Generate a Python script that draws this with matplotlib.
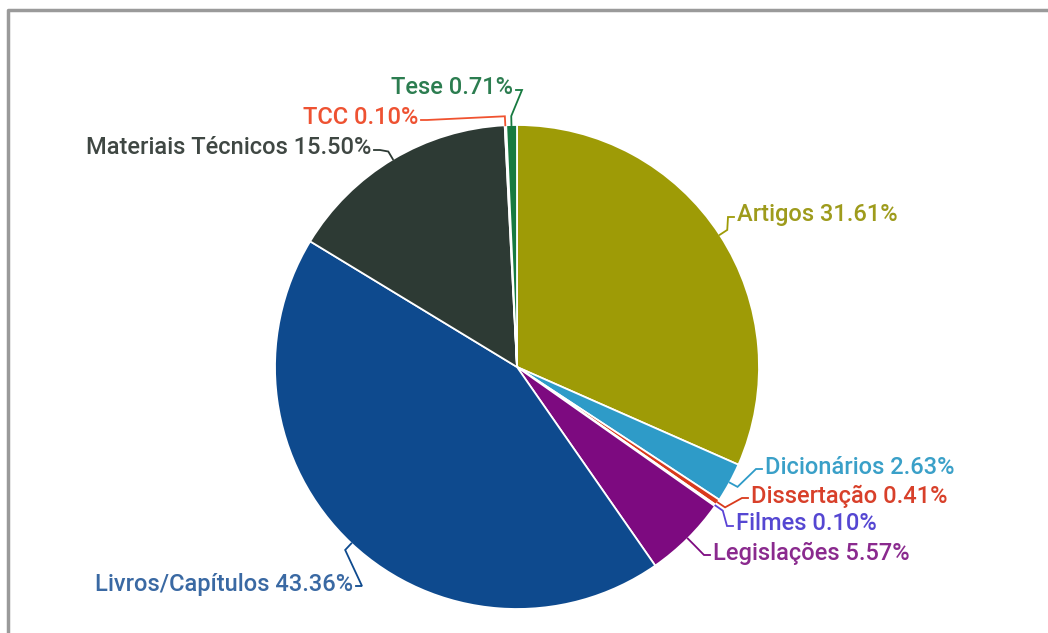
import numpy as np
from matplotlib import pyplot as plt

# slices, clockwise from 12 o'clock
labels = ["Artigos", "Dicionários", "Dissertação", "Filmes", "Legislações",
          "Livros/Capítulos", "Materiais Técnicos", "TCC", "Tese"]
percents = [31.61, 2.63, 0.41, 0.10, 5.57, 43.36, 15.50, 0.10, 0.71]
colors = ["#9e9b06", "#2e9bc8", "#d93a1c", "#5b43d6", "#7d0a80",
          "#0e4a8e", "#2d3a34", "#f0522f", "#177a40"]
text_colors = ["#9e9b1c", "#3aa0c8", "#d8402a", "#5547d2", "#8a2a8e",
               "#3a69a3", "#3f4743", "#ee5232", "#2c7d50"]

W, H = 1048, 633
cx, cy, r = 517, H - 367, 242

# label anchor (image px) and side
label_pos = {
    "Artigos": (737, 215, "left"),
    "Dicionários": (765, 467, "left"),
    "Dissertação": (751, 496, "left"),
    "Filmes": (736, 524, "left"),
    "Legislações": (713, 553, "left"),
    "Livros/Capítulos": (353, 584, "right"),
    "Materiais Técnicos": (371, 148, "right"),
    "TCC": (418, 118, "right"),
    "Tese": (513, 88, "right"),
}

fig = plt.figure(figsize=(W / 100, H / 100), dpi=100)
ax = fig.add_axes([0, 0, 1, 1])

ax.pie(percents, colors=colors, startangle=90, counterclock=False,
       center=(cx, cy), radius=r, frame=True,
       wedgeprops={"edgecolor": "white", "linewidth": 1.3})
ax.set_xlim(0, W)
ax.set_ylim(0, H)
ax.set_aspect("equal")
ax.axis("off")

# frame of the card
ax.plot([7.5, 7.5, W + 5], [-5, H - 10, H - 10], color="#9a9a9a", lw=2.5,
        solid_capstyle="butt", clip_on=False)

cum = np.cumsum([0] + percents[:-1])
for lab, p, c0, col, tcol in zip(labels, percents, cum, colors, text_colors):
    ang = np.radians(90 - 3.6 * (c0 + p / 2))
    ex, ey = cx + r * np.cos(ang), cy + r * np.sin(ang)
    ox, oy = cx + (r + 9) * np.cos(ang), cy + (r + 9) * np.sin(ang)
    tx, ty, side = label_pos[lab]
    ty = H - ty
    dx = -3 if side == "left" else 3
    ax.plot([ex, ox, tx + dx * 3, tx + dx], [ey, oy, ty - 2, ty - 2],
            color=col, lw=1.3, solid_joinstyle="miter")
    ax.text(tx, ty, f"{lab} {p:.2f}%", ha=side, va="center",
            color=tcol, fontsize=17, family=["Roboto", "DejaVu Sans"],
            fontweight="medium")

fig.savefig("out.png", dpi=100)
